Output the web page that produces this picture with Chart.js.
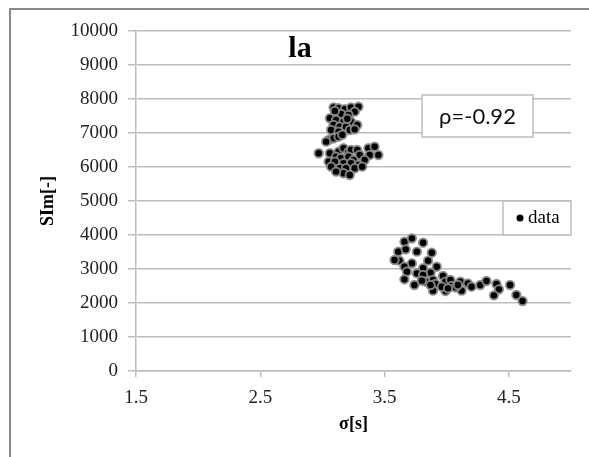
<!DOCTYPE html>
<html>
<head>
<meta charset="utf-8">
<script src="https://cdn.jsdelivr.net/npm/chart.js@4.4.0/dist/chart.umd.min.js"></script>
<style>
  html, body { margin: 0; padding: 0; background: #fff; }
</style>
</head>
<body>
<canvas id="myChart" width="589" height="457"></canvas>
<script>
// sigma [s] and SIm [-], one entry per dot
const sigmaVals = [
  // upper group near 3.1-3.3
  3.09, 3.13, 3.18, 3.23, 3.29, 3.26, 3.15, 3.21, 3.06, 3.11, 3.17, 3.23,
  3.28, 3.09, 3.14, 3.19, 3.07, 3.13, 3.22, 3.26, 3.05, 3.09, 3.13, 3.03,
  3.10, 3.20, 3.16,
  // lower group near 6000
  2.97, 3.06, 3.13, 3.17, 3.21, 3.23, 3.28, 3.30, 3.37, 3.42, 3.45, 3.38,
  3.34, 3.11, 3.15, 3.21, 3.25, 3.05, 3.10, 3.17, 3.23, 3.29, 3.07, 3.14,
  3.19, 3.26, 3.32, 3.17, 3.22, 3.11,
  // right hand group
  3.66, 3.72, 3.81, 3.61, 3.67, 3.76, 3.88, 3.62, 3.72, 3.85, 3.66, 3.68,
  3.81, 3.92, 3.76, 3.87, 3.66, 3.81, 3.97, 3.74, 3.83, 3.89, 3.80, 3.91,
  3.99, 4.03, 4.04, 3.89, 3.99, 4.11, 4.12, 4.07, 4.17, 4.20, 4.27, 4.32,
  4.40, 4.42, 4.38, 4.51, 4.56, 4.61, 3.96, 4.01, 4.09, 3.87, 3.58
];
const simVals = [
  7755, 7726, 7697, 7755, 7775, 7628, 7560, 7530, 7432, 7383, 7334, 7334,
  7236, 7236, 7187, 7187, 7089, 7040, 7089, 7108, 6795, 6844, 6893, 6746,
  7650, 7420, 6950,
  6403, 6403, 6452, 6550, 6452, 6501, 6501, 6354, 6550, 6599, 6354, 6354,
  6207, 6305, 6256, 6305, 6207, 6158, 6158, 6109, 6109, 6060, 6011, 5962,
  5962, 5962, 6011, 5815, 5766, 5864,
  3804, 3902, 3774, 3510, 3578, 3510, 3480, 3245, 3167, 3245, 3068, 2921,
  3020, 3068, 2872, 2892, 2696, 2823, 2794, 2529, 2627, 2676, 2657, 2559,
  2627, 2676, 2500, 2363, 2353, 2627, 2363, 2461, 2578, 2480, 2529, 2647,
  2559, 2402, 2225, 2529, 2235, 2059, 2480, 2431, 2529, 2529, 3265
];
const xTicks = [1.5, 2.5, 3.5, 4.5];
const seriesName = "data";
const chartTitle = "la";
const rhoText = "ρ=-0.92";
const xTitle = "σ[s]";
const yTitle = "SIm[-]";

const points = sigmaVals.map((v, i) => ({ x: v, y: simVals[i] }));

const serif = "'Liberation Serif', 'Times New Roman', serif";
const gridGray = "#bdbdbd";

// frame, title, axis titles, rho box and legend
const extras = {
  id: "extras",
  beforeDraw(chart) {
    const ctx = chart.ctx;
    ctx.save();
    ctx.fillStyle = "#fff";
    ctx.fillRect(0, 0, chart.width, chart.height);
    ctx.strokeStyle = "#8a8a8a";
    ctx.lineWidth = 2;
    ctx.beginPath();
    ctx.moveTo(10, chart.height);
    ctx.lineTo(10, 9);
    ctx.lineTo(chart.width, 9);
    ctx.stroke();
    ctx.restore();
  },
  afterDraw(chart) {
    const ctx = chart.ctx;
    const area = chart.chartArea;
    ctx.save();
    ctx.fillStyle = "#000";
    ctx.textAlign = "center";
    ctx.textBaseline = "middle";

    ctx.font = "bold 30px " + serif;
    ctx.fillText(chartTitle, 300, 49);

    ctx.font = "bold 18px " + serif;
    ctx.fillText(xTitle, (area.left + area.right) / 2, 424);

    ctx.save();
    ctx.translate(48, (area.top + area.bottom) / 2);
    ctx.rotate(-Math.PI / 2);
    ctx.fillText(yTitle, 0, 0);
    ctx.restore();

    // rho box
    ctx.fillStyle = "#fff";
    ctx.fillRect(422, 95, 111, 42);
    ctx.strokeStyle = "#bdbdbd";
    ctx.lineWidth = 1.5;
    ctx.strokeRect(422, 95, 111, 42);
    ctx.fillStyle = "#111";
    ctx.font = "22px Lato, sans-serif";
    ctx.fillText(rhoText, 477.5, 117);

    // legend
    ctx.fillStyle = "#fff";
    ctx.fillRect(503, 201, 68, 34);
    ctx.strokeRect(503, 201, 68, 34);
    ctx.fillStyle = "#000";
    ctx.beginPath();
    ctx.arc(520, 218, 3.5, 0, Math.PI * 2);
    ctx.fill();
    ctx.textAlign = "left";
    ctx.font = "19px " + serif;
    ctx.fillText(chart.data.datasets[0].label, 528, 218);
    ctx.restore();
  }
};

const ctx = document.getElementById("myChart");

const myChart = new Chart(ctx, {
  type: "scatter",
  data: {
    datasets: [
      {
        label: seriesName,
        data: points,
        pointRadius: 4.2,
        pointHoverRadius: 4.2,
        backgroundColor: "#000",
        borderColor: "rgba(140,140,140,0.9)",
        borderWidth: 2,
      },
    ],
  },
  options: {
    responsive: false,
    animation: false,
    layout: { padding: { left: 10, top: 31, right: 18, bottom: 46 } },
    plugins: {
      legend: { display: false },
      tooltip: { enabled: false },
    },
    scales: {
      x: {
        type: "linear",
        min: 1.5,
        max: 5,
        afterBuildTicks: (axis) => {
          axis.ticks = xTicks.map((v) => ({ value: v }));
        },
        afterFit: (axis) => { axis.height = 40; },
        grid: {
          drawOnChartArea: false,
          tickLength: 6,
          color: gridGray,
          lineWidth: 1.5,
        },
        border: { color: gridGray, width: 1.5 },
        ticks: {
          padding: 10,
          color: "#222",
          maxRotation: 0,
          font: { family: serif, size: 19 },
          callback: (v) => v.toFixed(1),
        },
      },
      y: {
        min: 0,
        max: 10000,
        afterFit: (axis) => { axis.width = 126; },
        grid: {
          tickLength: 8,
          color: gridGray,
          lineWidth: 1.5,
        },
        border: { color: gridGray, width: 1.5 },
        ticks: {
          stepSize: 1000,
          padding: 10,
          color: "#222",
          font: { family: serif, size: 19 },
          callback: (v) => String(v),
        },
      },
    },
  },
  plugins: [extras],
});
</script>
</body>
</html>
